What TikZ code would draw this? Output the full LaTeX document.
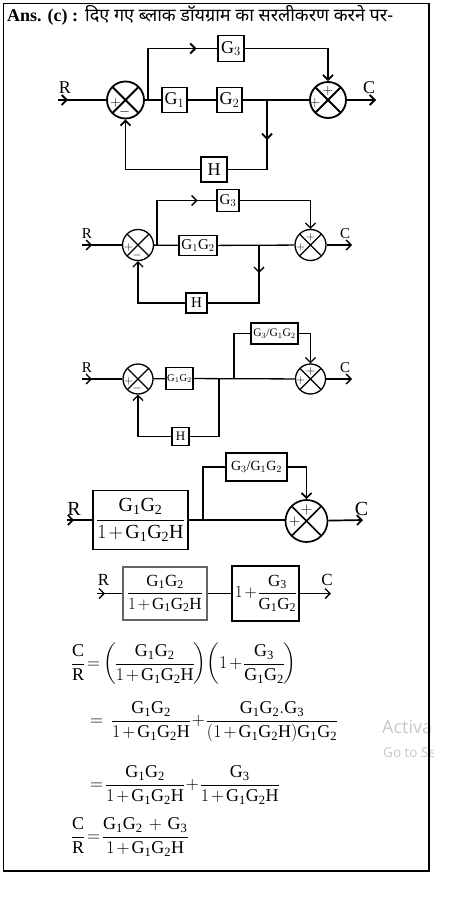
\documentclass[tikz,border=0pt]{standalone}
\usepackage{fix-cm}
\usepackage{amsmath}
\usepackage{fontspec}
\setmainfont{Liberation Serif}
\newfontfamily\hindi[Script=Devanagari]{Noto Sans}
\newfontfamily\wmfont{Open Sans}
\usetikzlibrary{arrows.meta,decorations.markings}
\newcommand{\fs}[1]{\fontsize{#1}{#1}\selectfont}
\newcommand{\tightmath}{\medmuskip=2mu\thickmuskip=3mu\nulldelimiterspace=0pt}
\tikzset{
  blk/.style={draw, inner sep=0pt, align=center},
  sumj/.style={circle, draw, inner sep=0pt, minimum size=#1,
    path picture={\draw (path picture bounding box.north west) -- (path picture bounding box.south east)
                        (path picture bounding box.north east) -- (path picture bounding box.south west);}},
  tipx/.style={-{Straight Barb[length=5pt,width=10pt]}},
  midarrow/.style={postaction={decorate}, decoration={markings,
    mark=at position #1 with {\arrow{Straight Barb[length=5pt,width=10pt]}}}},
  sgn/.style={inner sep=0pt, font=\fs{13}},
  lbl/.style={inner sep=0pt},
  eqn/.style={inner sep=0pt, anchor=west, font=\fs{18}\tightmath},
}
\begin{document}
\begin{tikzpicture}[x=1pt,y=-1pt]
\useasboundingbox (0,0) rectangle (454,901);
% watermark
\begin{scope}
  \clip (0,0) rectangle (433,901);
  \node[lbl, anchor=base west, text=black!22, font=\wmfont\fs{18}] (wm1) at (382,733) {Activa};
  \node[lbl, anchor=base west, text=black!22, font=\wmfont\fs{13.5}] (wm2) at (383,757) {Go to Se};
\end{scope}
% frame
\draw[line width=1.3pt] (3.5,3.5) rectangle (429,871);
% title
\node[lbl, anchor=base west, font=\fs{18}] (ans) at (7,22) {\textbf{Ans. (c) :}};
\node[lbl, anchor=base west, font=\hindi\fs{18}] (hin) at (85,22) {दिए गए ब्लाक डॉयग्राम का सरलीकरण करने पर-};

% ---------- diagram 1
\begin{scope}[line width=1.8pt, font=\fs{18}]
  \node[sumj=37pt] (a1) at (125.5,100) {};
  \node[sumj=36pt] (a2) at (328,100) {};
  \node[blk, minimum width=25pt, minimum height=25pt] (ag1) at (174.5,100) {G$_1$};
  \node[blk, minimum width=25pt, minimum height=25pt] (ag2) at (229.5,100) {G$_2$};
  \node[blk, minimum width=26pt, minimum height=26pt] (ag3) at (231,48.5) {G$_3$};
  \node[blk, minimum width=26pt, minimum height=25pt] (ah) at (214,169.5) {H};
  \node[lbl] (ar) at (65,88) {R};
  \node[lbl] (ac) at (369,88) {C};
  \coordinate (ain) at (58,100);
  \coordinate (aout) at (376,100);
  \coordinate (ab1) at (148,100);
  \coordinate (ab2) at (267,100);
  \draw[midarrow=10pt] (ain) -- (a1);
  \draw (a1) -- (ag1);
  \draw (ag1) -- (ag2);
  \draw (ag2) -- (a2);
  \draw[midarrow=100pt] (ab1) |- (ag3);
  \draw[tipx] (ag3) -| (a2);
  \draw[midarrow=40pt] (ab2) |- (ah);
  \draw[tipx] (ah) -| (a1);
  \draw[tipx] (a2) -- (aout);
  \node[sgn, font=\fs{14}] (a1p) at (115.5,103) {$+$};
  \node[sgn, font=\fs{14}] (a1m) at (124.5,112) {$-$};
  \node[sgn, font=\fs{14}] (a2p) at (328,91) {$+$};
  \node[sgn, font=\fs{14}] (a2q) at (315,103) {$+$};
\end{scope}

% ---------- diagram 2
\begin{scope}[line width=1.3pt, font=\fs{15}]
  \node[sumj=31pt] (b1) at (138,245) {};
  \node[sumj=31pt] (b2) at (310.5,245) {};
  \node[blk, minimum width=38pt, minimum height=20pt] (bg12) at (198,245.5) {G$_1$G$_2$};
  \node[blk, minimum width=22pt, minimum height=22pt] (bg3) at (228,200.5) {G$_3$};
  \node[blk, minimum width=21pt, minimum height=20pt] (bh) at (196.5,303) {H};
  \node[lbl] (br) at (87,234) {R};
  \node[lbl] (bc) at (345,234) {C};
  \coordinate (bin) at (82,245);
  \coordinate (bout) at (352,245);
  \coordinate (bb1) at (157,245);
  \coordinate (bb2) at (259,245);
  \draw[midarrow=10pt] (bin) -- (b1);
  \draw (b1) -- (bg12);
  \draw (bg12) -- (b2);
  \draw[midarrow=85pt] (bb1) |- (bg3);
  \draw[tipx] (bg3) -| (b2);
  \draw[midarrow=28pt] (bb2) |- (bh);
  \draw[tipx] (bh) -| (b1);
  \draw[tipx] (b2) -- (bout);
  \node[sgn, font=\fs{12}] (b1p) at (128.5,248) {$+$};
  \node[sgn, font=\fs{12}] (b1m) at (137,255.5) {$-$};
  \node[sgn, font=\fs{12}] (b2p) at (310.5,237.5) {$+$};
  \node[sgn, font=\fs{12}] (b2q) at (300.5,247) {$+$};
\end{scope}

% ---------- diagram 3
\begin{scope}[line width=1.3pt, font=\fs{15}]
  \node[sumj=30pt] (c1) at (138,379) {};
  \node[sumj=30pt] (c2) at (310.5,379) {};
  \node[blk, minimum width=27pt, minimum height=22pt, font=\fs{10.5}] (cg12) at (179.5,378.5) {G$_1$G$_2$};
  \node[blk, minimum width=47pt, minimum height=21pt, font=\fs{11.5}] (cg3) at (274.5,333.5) {G$_3$/G$_1$G$_2$};
  \node[blk, minimum width=17pt, minimum height=18pt, font=\fs{13}] (ch) at (180.5,436.5) {H};
  \node[lbl] (cr) at (87,368) {R};
  \node[lbl] (cc) at (345,368) {C};
  \coordinate (cin) at (82,379);
  \coordinate (cout) at (352,379);
  \coordinate (cb1) at (219,379);
  \coordinate (cb2) at (234,379);
  \draw[midarrow=10pt] (cin) -- (c1);
  \draw (c1) -- (cg12);
  \draw (cg12) -- (c2);
  \draw (cb1) |- (ch);
  \draw[tipx] (ch) -| (c1);
  \draw (cb2) |- (cg3);
  \draw[tipx] (cg3) -| (c2);
  \draw[tipx] (c2) -- (cout);
  \node[sgn, font=\fs{12}] (c1p) at (128.5,381) {$+$};
  \node[sgn, font=\fs{12}] (c1m) at (137,388) {$-$};
  \node[sgn, font=\fs{12}] (c2p) at (310.5,371) {$+$};
  \node[sgn, font=\fs{12}] (c2q) at (300.5,380) {$+$};
\end{scope}

% ---------- diagram 4
\begin{scope}[line width=1.7pt, font=\fs{20}\tightmath]
  \node[blk, minimum width=95pt, minimum height=59pt] (dA) at (140.5,520) {$\dfrac{\mathrm{G_1G_2}}{1+\mathrm{G_1G_2H}}$};
  \node[sumj=42pt] (d1) at (306.5,521) {};
  \node[blk, minimum width=61pt, minimum height=28pt, font=\fs{14}] (dg3) at (256.5,467) {G$_3$/G$_1$G$_2$};
  \node[lbl] (dr) at (74,508.5) {R};
  \node[lbl] (dc) at (361.5,509) {C};
  \coordinate (din) at (67,520);
  \coordinate (dout) at (363,520);
  \coordinate (db) at (203,520);
  \draw[midarrow=7pt] (din) -- (dA);
  \draw (dA) -- (dA.east -| d1.west);
  \draw (db) |- (dg3);
  \draw[tipx] (dg3) -| (d1);
  \draw[tipx] (d1) -- (dout);
  \node[sgn, font=\fs{15}] (d1p) at (306.5,510) {$+$};
  \node[sgn, font=\fs{15}] (d1q) at (294.5,522) {$+$};
\end{scope}

% ---------- diagram 5
\begin{scope}[line width=1.3pt, font=\fs{17}\tightmath]
  \node[blk, draw=black!60, line width=1.1pt, minimum width=84pt, minimum height=53pt] (eA) at (165,593.5) {$\dfrac{\mathrm{G_1G_2}}{1+\mathrm{G_1G_2H}}$};
  \node[blk, line width=2pt, minimum width=67pt, minimum height=55pt] (eB) at (265.5,593.5) {$1+\dfrac{\mathrm{G_3}}{\mathrm{G_1G_2}}$};
  \node[lbl] (er) at (103.5,580) {R};
  \node[lbl] (ec) at (327,580) {C};
  \coordinate (ein) at (97,593.5);
  \coordinate (eout) at (331,593.5);
  \draw[midarrow=8pt] (ein) -- (eA);
  \draw (eA) -- (eB);
  \draw[tipx] (eB) -- (eout);
\end{scope}

% ---------- equations
\node[eqn] (q1) at (72,664) {$\dfrac{\mathrm{C}}{\mathrm{R}}=\left(\dfrac{\mathrm{G_1G_2}}{1+\mathrm{G_1G_2H}}\right)\!\left(1+\dfrac{\mathrm{G_3}}{\mathrm{G_1G_2}}\right)$};
\node[eqn] (q2) at (90,722) {$=\;\;\dfrac{\mathrm{G_1G_2}}{1+\mathrm{G_1G_2H}}+\dfrac{\mathrm{G_1G_2.G_3}}{(1+\mathrm{G_1G_2H})\mathrm{G_1G_2}}$};
\node[eqn] (q3) at (90,785) {$=\dfrac{\mathrm{G_1G_2}}{1+\mathrm{G_1G_2H}}+\dfrac{\mathrm{G_3}}{1+\mathrm{G_1G_2H}}$};
\node[eqn] (q4) at (72,837) {$\dfrac{\mathrm{C}}{\mathrm{R}}=\dfrac{\mathrm{G_1G_2}\mskip4mu+\mskip4mu\mathrm{G_3}}{1+\mathrm{G_1G_2H}}$};
\end{tikzpicture}
\end{document}
